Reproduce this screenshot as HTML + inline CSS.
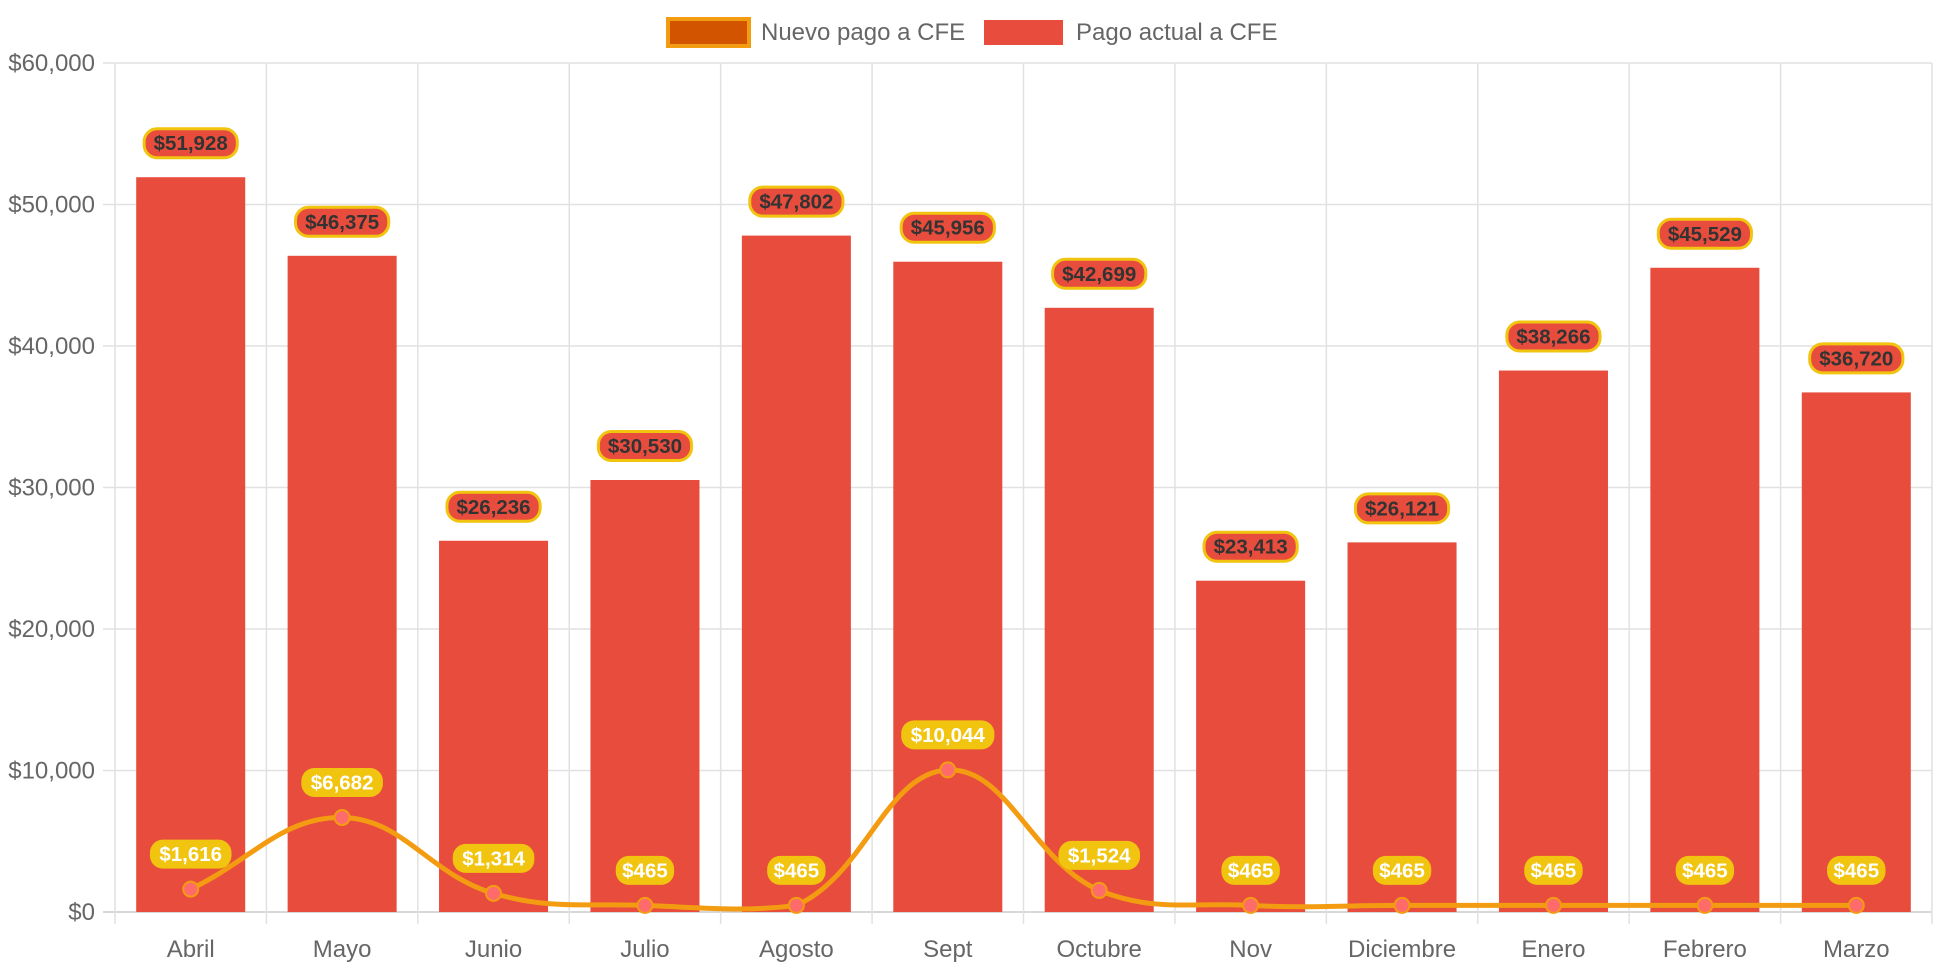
<!DOCTYPE html>
<html><head><meta charset="utf-8"><style>
html,body{margin:0;padding:0;background:#fff;}
svg{display:block;font-family:"Liberation Sans",Arial,sans-serif;}
</style></head><body>
<svg id="chart" width="1942" height="970" viewBox="0 0 1942 970">
<g>
 <g>
  <rect x="668" y="19" width="81" height="27" fill="#d35400" stroke="#f39c12" stroke-width="4"/>
  <text x="761" y="40" font-size="24" fill="#666">Nuevo pago a CFE</text>
 </g>
 <g>
  <rect x="984" y="20" width="79" height="25" fill="#e74c3c"/>
  <text x="1076" y="40" font-size="24" fill="#666">Pago actual a CFE</text>
 </g>
</g>
<g id="grid"></g>
<g id="bars"></g>
<g id="line"></g>
<g id="labels"></g>
</svg>
<script>
const categories = ["Abril","Mayo","Junio","Julio","Agosto","Sept","Octubre","Nov","Diciembre","Enero","Febrero","Marzo"];
const actualValues = [51928,46375,26236,30530,47802,45956,42699,23413,26121,38266,45529,36720];
const nuevoValues = [1616,6682,1314,465,465,10044,1524,465,465,465,465,465];
const yTicks = [0,10000,20000,30000,40000,50000,60000];

const NS="http://www.w3.org/2000/svg";
const L=115,R=1932,T=63,B=912,YMAX=60000;
const cw=(R-L)/categories.length;
const x=i=>L+cw*(i+0.5);
const y=v=>B-(v/YMAX)*(B-T);
const fmt=v=>"$"+v.toLocaleString("en-US");
function mk(tag,attrs,parent){const e=document.createElementNS(NS,tag);for(const k in attrs)e.setAttribute(k,attrs[k]);parent.appendChild(e);return e;}
const grid=document.getElementById("grid"),bars=document.getElementById("bars"),line=document.getElementById("line"),labels=document.getElementById("labels");

yTicks.forEach(t=>{
 const g=mk("line",{x1:L-12,x2:R,y1:y(t),y2:y(t),stroke:t===0?"#ccc":"#e1e1e1","stroke-width":1.5},grid);
 
 
 const tx=mk("text",{x:L-20,y:y(t)+8,"text-anchor":"end","font-size":24,fill:"#666"},grid);
 tx.textContent=fmt(t);
 
 
});
for(let i=0;i<=categories.length;i++){
 const xx=L+cw*i;
 const g=mk("line",{x1:xx,x2:xx,y1:T,y2:B+12,stroke:"#e1e1e1","stroke-width":1.5},grid);
 
 
}
categories.forEach((c,i)=>{
 const tx=mk("text",{x:x(i),y:957,"text-anchor":"middle","font-size":24,fill:"#666"},grid);
 tx.textContent=c;
 
 
});
const bw=cw*0.72;
actualValues.forEach((v,i)=>{
 const r=mk("rect",{x:x(i)-bw/2,y:y(v),width:bw,height:B-y(v),fill:"#e74c3c"},bars);
 
 
});
const pts=nuevoValues.map((v,i)=>({x:x(i),y:y(v)}));
const tension=0.4;
const cps=pts.map((p,i)=>{
 const prev=pts[i-1]||p,next=pts[i+1]||p;
 const d01=Math.hypot(p.x-prev.x,p.y-prev.y),d12=Math.hypot(next.x-p.x,next.y-p.y);
 let s01=d01/(d01+d12||1),s12=d12/(d01+d12||1);
 const fa=tension*s01,fb=tension*s12;
 return {px:p.x-fa*(next.x-prev.x),py:p.y-fa*(next.y-prev.y),nx:p.x+fb*(next.x-prev.x),ny:p.y+fb*(next.y-prev.y)};
});
let d="M"+pts[0].x+","+pts[0].y;
for(let i=1;i<pts.length;i++){d+=" C"+cps[i-1].nx+","+Math.min(cps[i-1].ny,B)+" "+cps[i].px+","+Math.min(cps[i].py,B)+" "+pts[i].x+","+pts[i].y;}
const path=mk("path",{d:d,fill:"none",stroke:"#f39c12","stroke-width":5},line);


pts.forEach((p,i)=>{
 const c=mk("circle",{cx:p.x,cy:p.y,r:7.5,fill:"#ff6b6b",stroke:"#f39c12","stroke-width":2},line);
 
 
});
function bubble(cx,cy,txt,bg,border,col,name){
 const w=txt.length*11.6+12,h=29;
 const g=mk("g",{},labels);
 
 
 mk("rect",{x:cx-w/2,y:cy-h/2,width:w,height:h,rx:13,fill:bg,stroke:border,"stroke-width":border==="none"?0:3},g);
 const t=mk("text",{x:cx,y:cy+7,"text-anchor":"middle","font-size":20.5,"font-weight":"bold",fill:col},g);
 t.textContent=txt;
}
actualValues.forEach((v,i)=>bubble(x(i),y(v)-34,fmt(v),"#e74c3c","#f1c40f","#333","bar-value-label"));
nuevoValues.forEach((v,i)=>bubble(x(i),y(v)-35,fmt(v),"#f1c40f","none","#fff","line-value-label"));
</script>
</body></html>
